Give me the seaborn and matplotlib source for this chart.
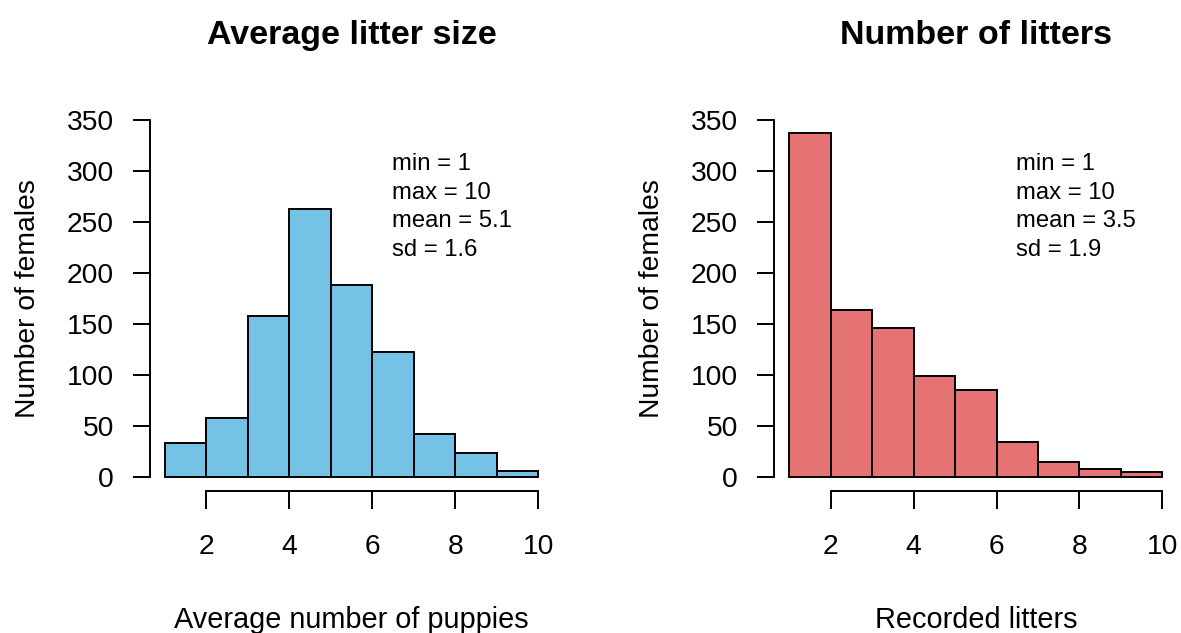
import matplotlib
matplotlib.use("Agg")
import matplotlib.pyplot as plt
import numpy as np
import pandas as pd
import seaborn as sns

# Histogram bins (unit width, 1..10) and counts per bin
bin_edges = [1, 2, 3, 4, 5, 6, 7, 8, 9, 10]
size_counts = [33, 58, 158, 263, 188, 122, 42, 23, 6]
litter_counts = [337, 164, 146, 99, 85, 34, 14, 8, 5]

titles = ["Average litter size", "Number of litters"]
x_labels = ["Average number of puppies", "Recorded litters"]
y_label = "Number of females"
colors = ["#74C3E7", "#E57373"]
summaries = [
    ["min = 1", "max = 10", "mean = 5.1", "sd = 1.6"],
    ["min = 1", "max = 10", "mean = 3.5", "sd = 1.9"],
]
x_ticks = [2, 4, 6, 8, 10]
y_ticks = [0, 50, 100, 150, 200, 250, 300, 350]

sns.set_theme(style="white")
plt.rcParams["font.family"] = ["Liberation Sans", "DejaVu Sans"]

W, H, DPI = 1181, 633, 100
fig = plt.figure(figsize=(W / DPI, H / DPI), dpi=DPI)

ax_w = 403 / W
ax_h = 385.3 / H
ax_bottom = 1 - 491 / H
lefts = [150 / W, 774.3 / W]

mids = [(a + b) / 2 for a, b in zip(bin_edges[:-1], bin_edges[1:])]
lw = 1.4

for i, counts in enumerate([size_counts, litter_counts]):
    ax = fig.add_axes([lefts[i], ax_bottom, ax_w, ax_h])
    df = pd.DataFrame({"x": mids, "n": counts})
    sns.histplot(data=df, x="x", weights="n", bins=bin_edges, ax=ax,
                 color=colors[i], alpha=1.0, edgecolor="black", linewidth=lw)

    # R-style axis ranges with 4% padding, detached axes
    ax.set_xlim(0.64, 10.36)
    ax.set_ylim(-14, 364)
    for s in ["top", "right"]:
        ax.spines[s].set_visible(False)
    for s in ["left", "bottom"]:
        ax.spines[s].set_color("black")
        ax.spines[s].set_linewidth(lw)
    ax.spines["left"].set_bounds(0, 350)
    ax.spines["bottom"].set_bounds(2, 10)

    ax.set_xticks(x_ticks)
    ax.set_yticks(y_ticks)
    ax.tick_params(axis="both", which="major", direction="out", length=12.6,
                   width=lw, color="black", labelsize=20.3, labelcolor="black",
                   left=True, bottom=True)
    ax.tick_params(axis="x", pad=18.5)
    ax.tick_params(axis="y", pad=13.5)
    ax.grid(False)

    ax.set_xlabel(x_labels[i], fontsize=20.8, color="black")
    ax.set_ylabel(y_label, fontsize=20.3, color="black")
    ax.xaxis.set_label_coords(0.5, -0.298)
    ax.yaxis.set_label_coords(-0.27, 0.5)

    ax.set_title(titles[i], fontsize=24.5, fontweight="bold", color="black", pad=44.4)

    for k, line in enumerate(summaries[i]):
        ax.text(6.47, 301 - 28.2 * k, line, fontsize=17.2, color="black",
                ha="left", va="baseline")

fig.savefig("out.png", dpi=DPI, facecolor="white")
